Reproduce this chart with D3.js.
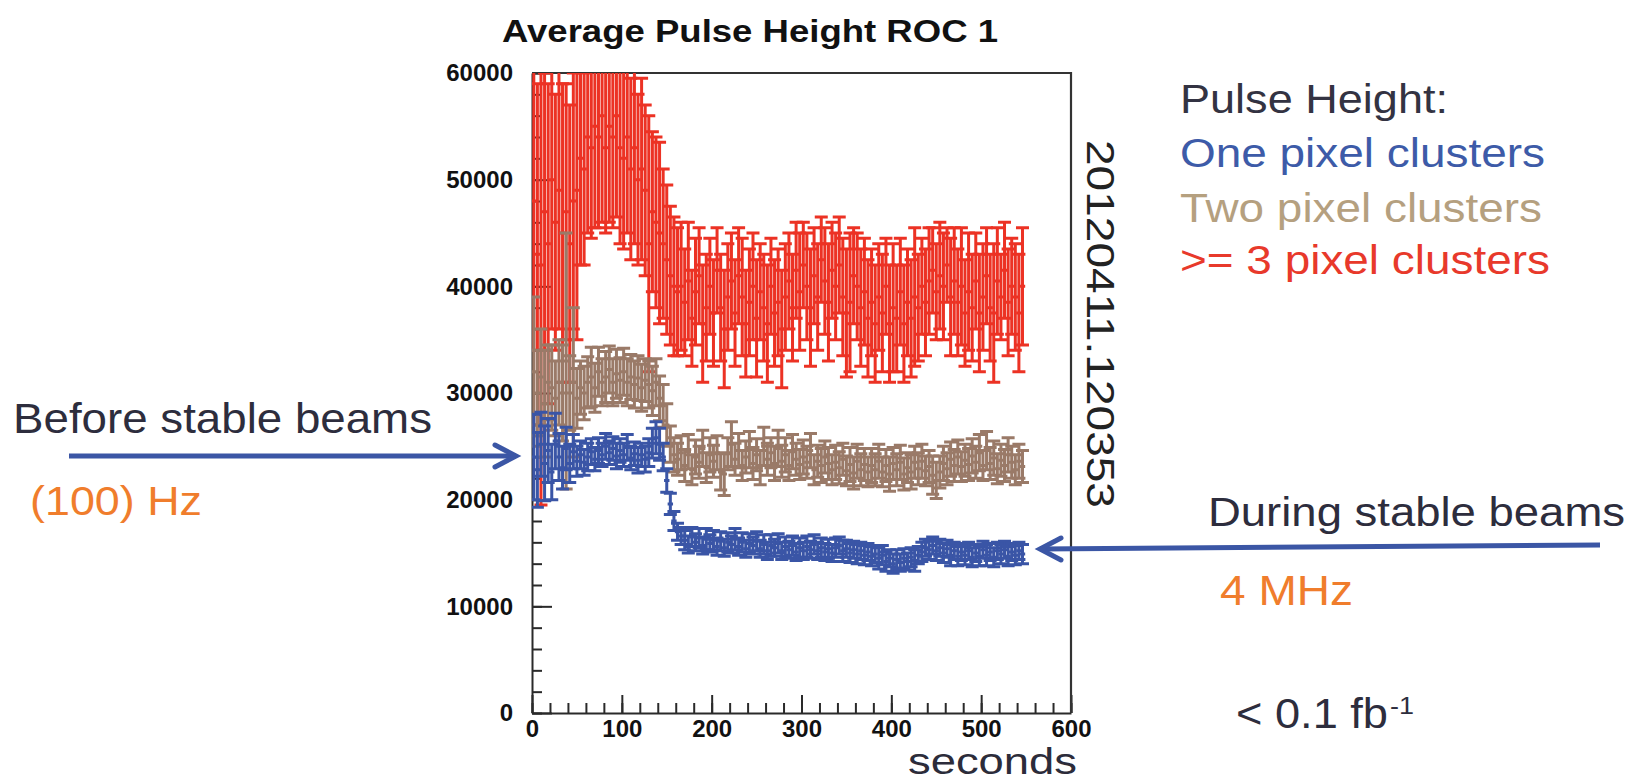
<!DOCTYPE html>
<html><head><meta charset="utf-8">
<script src="https://cdn.jsdelivr.net/npm/d3@7"></script>
<style>
html,body{margin:0;padding:0;background:#fff;}
svg{display:block;font-family:"Liberation Sans",Arial,Helvetica,sans-serif;}
</style></head><body>
<svg id="chart" width="1633" height="782"></svg>
<script>
// ---- data: bin centres in seconds (4 s bins) ----
const binCenters = d3.range(2, 550, 4);

const redValues = [
48000,43000,42000,47000,44000,50000,46000,49000,45000,47000,44000,48000,
49000,52000,51000,54000,53000,55000,54000,56000,53000,55000,54000,56000,53000,52000,54000,51000,53000,50000,51000,49000,
44000,47000,46000,45000,44000,42500,41000,40000,39500,40000,
38500,40500,37000,39500,41000,36500,38000,40000,37500,41500,
38000,36000,39000,40500,37500,41000,39000,36500,38500,40000,
37000,39500,38000,36500,40000,37500,38500,36000,39000,40500,
38000,41500,39500,42000,40000,38000,41000,39000,42500,40500,
38500,41500,40000,42000,39000,37500,38500,41000,40000,38000,
39500,37000,38500,36500,39000,37500,40000,36500,38000,37000,
39500,36500,38500,37000,39000,38000,40000,38500,40500,41500,
39500,41000,40000,42000,39000,40500,38500,40000,37500,39500,
38000,40500,37500,39000,41000,38000,37500,40500,39000,41500,
38500,40000,39000,37500,40000];
const redErrors = [
14000,16000,22500,13000,15000,14000,12000,13000,14000,12000,13000,12000,
14000,10000,9000,9000,8500,9500,8500,10000,8000,9000,8500,9500,9000,8500,9000,8500,9000,8000,8500,8000,
12000,7500,8000,8500,7000,7000,6500,6500,6000,6000,
5000,5500,4500,5000,4500,5500,5000,4500,5000,4000,
5000,5500,5000,4500,5000,4500,5500,5000,5000,5000,
5500,4500,5000,5500,4500,5000,5000,5500,5000,4500,
5000,4500,5500,4000,5000,5500,4500,5000,4000,5000,
5500,4500,5000,4500,5500,6000,6500,4500,5000,5500,
5000,5500,5000,5500,5000,5500,4500,5500,6000,5000,
5000,5500,5000,5500,6500,5000,4500,5000,5000,4000,
4500,5000,5000,3500,5500,5000,5000,5500,5000,5500,
5000,4500,5500,5000,4500,5000,6500,5000,4000,4500,
5000,4500,5000,5500,5500];

const brownValues = [
32000,30000,31500,29000,31000,30500,29500,31000,30000,33000,30000,31000,
29500,30500,30000,31000,31500,30500,32000,31000,31500,32200,31000,31800,31200,32000,31000,31500,30800,31400,30500,31200,
30800,30200,31000,29500,28800,27000,25200,24200,23800,24400,
23200,24500,22800,24000,23500,24800,23000,24200,23600,24400,
22600,22400,24300,25200,23800,24600,23200,24000,24700,23400,
24200,23000,25000,23800,24400,23400,24800,23600,24200,23200,
24500,23800,23300,24000,23500,24600,22800,23600,23200,24000,
23400,22800,23500,23000,23800,22700,23300,22500,23600,22800,
23300,22600,23200,22800,23600,22600,23200,22400,23400,22800,
23500,22400,23000,22600,23500,22900,23600,22700,23100,22300,
21800,22600,23400,22900,23800,23200,24000,23100,23700,23300,
24100,23500,24400,23200,24600,23400,23900,22900,23700,23200,
24200,23500,22800,23600,23100];
const brownErrors = [
7000,4000,4500,5000,3500,4000,3500,4000,4500,12000,3500,7000,
2800,2500,2500,2400,2800,2300,2300,2200,2400,2200,2200,2300,2100,2200,2200,2100,2200,2100,2200,2000,
2200,2300,2200,2100,2000,2000,1700,1600,1500,1600,
1500,1600,1400,1600,1500,1700,1400,1600,1500,1600,
1700,2000,1500,2100,1500,1600,1400,1500,1700,1500,
1500,1600,1800,1500,1400,1600,1700,1500,1600,1400,
1600,1500,1400,1600,1500,1600,1400,1500,1600,1500,
1500,1400,1600,1500,1500,1400,1600,1500,1600,1500,
1500,1400,1600,1500,1600,1400,1500,1600,1500,1500,
1600,1500,1400,1600,1500,1500,1600,1400,1500,1800,
1700,1500,1600,1500,1600,1500,1600,1400,1500,1500,
1600,1500,1700,1400,1800,1500,1600,1400,1500,1500,
1600,1500,1400,1600,1500];

const blueValues = [
24000,22800,25200,23400,24600,22600,25500,24000,23000,24800,23400,24500,
23600,24200,23500,24000,24500,23800,24600,24200,25000,24400,24800,24100,24600,24200,24900,23900,24300,23700,24200,23800,
24400,25300,25800,25200,24000,21800,19600,18000,17000,16600,
16200,15800,16500,16000,16400,15700,16300,15900,16200,15600,
16100,15500,16000,15800,16300,15600,16000,15400,15900,15700,
16100,15400,15800,15200,15700,15500,15900,15200,15600,15300,
15700,15100,15500,15200,15600,15300,15800,15200,15500,15100,
15400,15000,15500,15700,15200,15400,15000,15300,14900,15200,
14800,15100,14700,14900,14500,14800,14200,14500,14000,14400,
14100,14500,14200,14600,14300,14800,15100,15500,15300,15700,
15200,15500,15000,15400,14800,15200,14700,15100,14800,15200,
14600,15000,14700,15300,14800,15100,14600,15200,14900,15300,
14700,15100,14800,15200,14900];
const blueErrors = [
4000,3500,3000,3500,3000,2600,2600,2200,2000,2000,1800,1600,
1400,1300,1200,1300,1200,1100,1200,1100,1200,1100,1100,1200,1100,1100,1200,1100,1100,1200,1100,1200,
1300,1400,1500,1500,1300,1100,1000,900,800,800,
900,800,900,800,900,800,1000,800,900,800,
900,800,900,800,1000,800,900,800,900,800,
900,800,900,800,1000,800,900,800,900,800,
900,800,900,800,1000,800,900,800,900,800,
900,800,900,800,1000,800,900,800,900,800,
900,800,900,800,1000,900,900,800,900,900,
800,900,800,900,1000,800,900,800,900,800,
900,800,900,800,1000,800,900,800,900,800,
900,800,900,800,1000,800,900,800,900,800,
900,800,900,800,900];

const xTicks = [0,100,200,300,400,500,600];
const yTicks = [0,10000,20000,30000,40000,50000,60000];
const xMinorTicks = d3.range(0, 601, 20);
const yMinorTicks = d3.range(0, 60001, 2000);

const seriesList = [
  {name: ">= 3 pixel clusters", values: redValues, errors: redErrors, color: "#ec3224"},
  {name: "Two pixel clusters", values: brownValues, errors: brownErrors, color: "#9a7a68"},
  {name: "One pixel clusters", values: blueValues, errors: blueErrors, color: "#3a55a6"}
];

// ---- drawing ----
const svg = d3.select('#chart');
const x = d3.scaleLinear().domain([0, 600]).range([532, 1071]);
const y = d3.scaleLinear().domain([0, 60000]).range([713, 73]);
const axisColor = "#2a2a2a";

// minor ticks
svg.append('g').attr('transform','translate(532,0)')
  .call(d3.axisLeft(y).tickValues(yMinorTicks).tickSize(-10).tickSizeOuter(0).tickFormat(''))
  .call(g => g.select('.domain').remove());
svg.append('g').attr('transform','translate(0,713)')
  .call(d3.axisBottom(x).tickValues(xMinorTicks).tickSize(-10).tickSizeOuter(0).tickFormat(''))
  .call(g => g.select('.domain').remove());
// major ticks + labels
svg.append('g').attr('class','yaxis').attr('transform','translate(532,0)')
  .call(d3.axisLeft(y).tickValues(yTicks).tickSize(-20).tickSizeOuter(0).tickPadding(19).tickFormat(d3.format('d')));
svg.append('g').attr('class','xaxis').attr('transform','translate(0,713)')
  .call(d3.axisBottom(x).tickValues(xTicks).tickSize(-18).tickSizeOuter(0).tickPadding(7).tickFormat(d3.format('d')));
svg.selectAll('.tick line').attr('stroke', axisColor).attr('stroke-width', 2);
svg.selectAll('.yaxis text, .xaxis text').attr('font-size', 24).attr('font-weight','bold')
  .attr('fill','#111').attr('font-family','"Liberation Sans",Arial,sans-serif');
svg.selectAll('.domain').attr('stroke', axisColor).attr('stroke-width', 2);

// frame (top and right)
svg.append('path')
  .attr('d', `M${x(0)},${y(60000)}H${x(600)}V${y(0)}`)
  .attr('fill','none').attr('stroke','#333').attr('stroke-width',2.2);

// clip
svg.append('defs').append('clipPath').attr('id','plotclip')
  .append('rect').attr('x', x(0)).attr('y', y(60000))
  .attr('width', x(600)-x(0)).attr('height', y(0)-y(60000));

const dataG = svg.append('g').attr('clip-path','url(#plotclip)');
const capHalf = 6.5;
seriesList.forEach(s => {
  const g = dataG.append('g');
  g.selectAll('path').data(binCenters.map((t,i)=>({t, v:s.values[i], e:s.errors[i]})))
    .join('path')
    .attr('d', d => {
      const cx = x(d.t), yt = y(d.v + d.e), yb = y(d.v - d.e), yc = y(d.v);
      const xl = x(d.t - 3), xr = x(d.t + 3);
      return `M${cx},${yt}V${yb}M${cx-capHalf},${yt}H${cx+capHalf}M${cx-capHalf},${yb}H${cx+capHalf}M${xl},${yc}H${xr}`;
    })
    .attr('fill','none').attr('stroke', s.color).attr('stroke-width', 3);
});

// ---- texts ----
function txt(str, xx, yy, size, len, color, weight) {
  return svg.append('text').attr('x', xx).attr('y', yy)
    .attr('font-size', size).attr('fill', color).attr('font-weight', weight || 'normal')
    .attr('textLength', len).attr('lengthAdjust','spacingAndGlyphs').text(str);
}
txt('Average Pulse Height ROC 1', 502, 42, 31, 496, '#111', 'bold');
txt('seconds', 908, 774, 36, 169, '#2c2c3a');

const legendTexts = ['Pulse Height:', 'One pixel clusters', 'Two pixel clusters', '>= 3 pixel clusters'];
const legendColors = ['#333342', '#3d5ba8', '#b5a07f', '#e8392b'];
const legendLens = [268, 365, 362, 370];
const legendBase = [113, 167, 222, 274];
legendTexts.forEach((t,i) => txt(t, 1180, legendBase[i], 40, legendLens[i], legendColors[i]));

txt('Before stable beams', 13, 433, 43, 419, '#2d2d3d');
txt('(100) Hz', 30, 515, 41, 172, '#f07d2c');
txt('During stable beams', 1208, 526, 40, 417, '#2d2d3d');
txt('4 MHz', 1220, 605, 42, 133, '#f07d2c');
txt('< 0.1 fb', 1236, 728, 42, 152, '#2d2d3d');
txt('-1', 1390, 714, 24, 24, '#2d2d3d');

svg.append('text').attr('transform','translate(1087,140) rotate(90)')
  .attr('font-size', 38).attr('fill','#222')
  .attr('textLength', 368).attr('lengthAdjust','spacingAndGlyphs')
  .text('20120411.120353');

// ---- arrows ----
const arrowColor = '#3b56a5';
function arrow(x1, y1, x2, y2, ax, ay) {
  svg.append('line').attr('x1',x1).attr('y1',y1).attr('x2',x2).attr('y2',y2)
    .attr('stroke',arrowColor).attr('stroke-width',5);
  svg.append('path').attr('d', `M${x2+ax},${y2-ay}L${x2},${y2}L${x2+ax},${y2+ay}`)
    .attr('fill','none').attr('stroke',arrowColor).attr('stroke-width',5)
    .attr('stroke-linejoin','miter').attr('stroke-linecap','round');
}
arrow(69, 456, 516, 456, -21, 11);
arrow(1600, 545, 1040, 549, 21, 11);
</script>
</body></html>
